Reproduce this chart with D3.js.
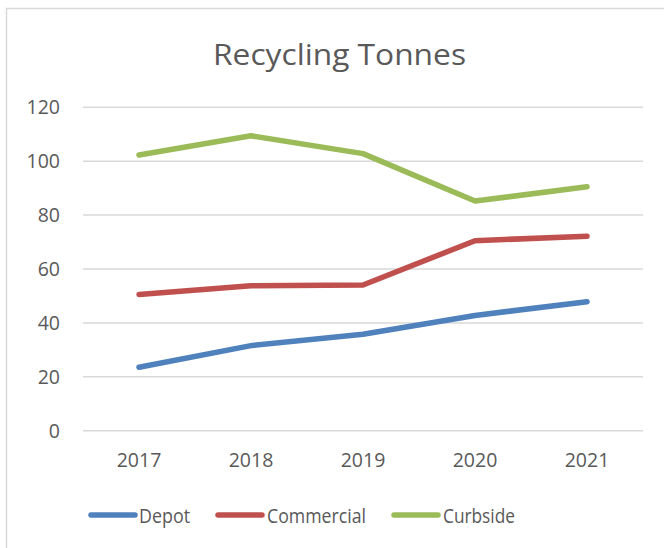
<!DOCTYPE html>
<html>
<head>
<meta charset="utf-8">
<script src="https://cdn.jsdelivr.net/npm/d3@7"></script>
<style>
  html, body { margin: 0; padding: 0; background: #fff; }
  svg { display: block; }
  text { font-family: "Open Sans", "Noto Sans", sans-serif; fill: #595959; }
</style>
</head>
<body>
<svg id="chart" width="664" height="548"></svg>
<script>
// Yearly recycling tonnage by collection stream
const years = ["2017", "2018", "2019", "2020", "2021"];
const depot = [23.4, 31.4, 35.6, 42.6, 47.7];
const commercial = [50.4, 53.6, 53.9, 70.3, 72.0];
const curbside = [102.1, 109.2, 102.6, 85.0, 90.3];
const yTicks = [0, 20, 40, 60, 80, 100, 120];

const series = [
  { name: "Depot", values: depot, color: "#4F81BD" },
  { name: "Commercial", values: commercial, color: "#C0504D" },
  { name: "Curbside", values: curbside, color: "#9BBB59" }
];

const W = 664, H = 548;
const plot = { left: 83, right: 643, top: 106.7, bottom: 430.3 };

const svg = d3.select("#chart");

// Chart frame (top and left edges visible)
svg.append("path")
  .attr("d", `M6.5,${H} V8.5 H${W}`)
  .attr("fill", "none")
  .attr("stroke", "#d9d9d9")
  .attr("stroke-width", 1.5);

// Title
svg.append("text")
  .attr("x", 339.5)
  .attr("y", 64.5)
  .attr("text-anchor", "middle")
  .attr("font-size", 29.5)
  .attr("textLength", 253)
  .attr("lengthAdjust", "spacingAndGlyphs")
  .text("Recycling Tonnes");

const x = d3.scaleBand().domain(years).range([plot.left, plot.right]);
const y = d3.scaleLinear().domain([0, 120]).range([plot.bottom, plot.top]);

// Horizontal gridlines + value labels
const yAxis = d3.axisLeft(y)
  .tickValues(yTicks)
  .tickSize(-(plot.right - plot.left))
  .tickPadding(23)
  .tickFormat(d3.format("d"));

const gy = svg.append("g")
  .attr("transform", `translate(${plot.left},0)`)
  .call(yAxis);
gy.select(".domain").remove();
gy.selectAll(".tick line").attr("stroke", "#d9d9d9").attr("stroke-width", 1.5);
gy.selectAll(".tick text")
  .attr("font-size", 19.5)
  .attr("fill", "#595959")
  .attr("dy", "0.35em")
  .style("font-family", "'Open Sans', sans-serif");

// Category labels
const xAxis = d3.axisBottom(x).tickSize(0).tickPadding(23);
const gx = svg.append("g")
  .attr("transform", `translate(0,${plot.bottom})`)
  .call(xAxis);
gx.select(".domain").remove();
gx.selectAll(".tick text")
  .attr("font-size", 19.5)
  .attr("fill", "#595959")
  .style("font-family", "'Open Sans', sans-serif");

// Series lines
const line = d3.line()
  .x((d, i) => x(years[i]) + x.bandwidth() / 2)
  .y(d => y(d));

svg.append("g").selectAll("path")
  .data(series)
  .join("path")
  .attr("d", d => line(d.values))
  .attr("fill", "none")
  .attr("stroke", d => d.color)
  .attr("stroke-width", 5.5)
  .attr("stroke-linecap", "round")
  .attr("stroke-linejoin", "round");

// Legend
const legendItems = [
  { x0: 91, tx: 139, len: 51 },
  { x0: 218, tx: 267, len: 99 },
  { x0: 394, tx: 443, len: 72 }
];
const lg = svg.append("g");
series.forEach((s, i) => {
  const p = legendItems[i];
  lg.append("line")
    .attr("x1", p.x0).attr("x2", p.x0 + 44)
    .attr("y1", 515).attr("y2", 515)
    .attr("stroke", s.color)
    .attr("stroke-width", 5.5)
    .attr("stroke-linecap", "round");
  lg.append("text")
    .attr("x", p.tx)
    .attr("y", 522.5)
    .attr("font-size", 20)
    .attr("textLength", p.len)
    .attr("lengthAdjust", "spacingAndGlyphs")
    .text(s.name);
});
</script>
</body>
</html>
